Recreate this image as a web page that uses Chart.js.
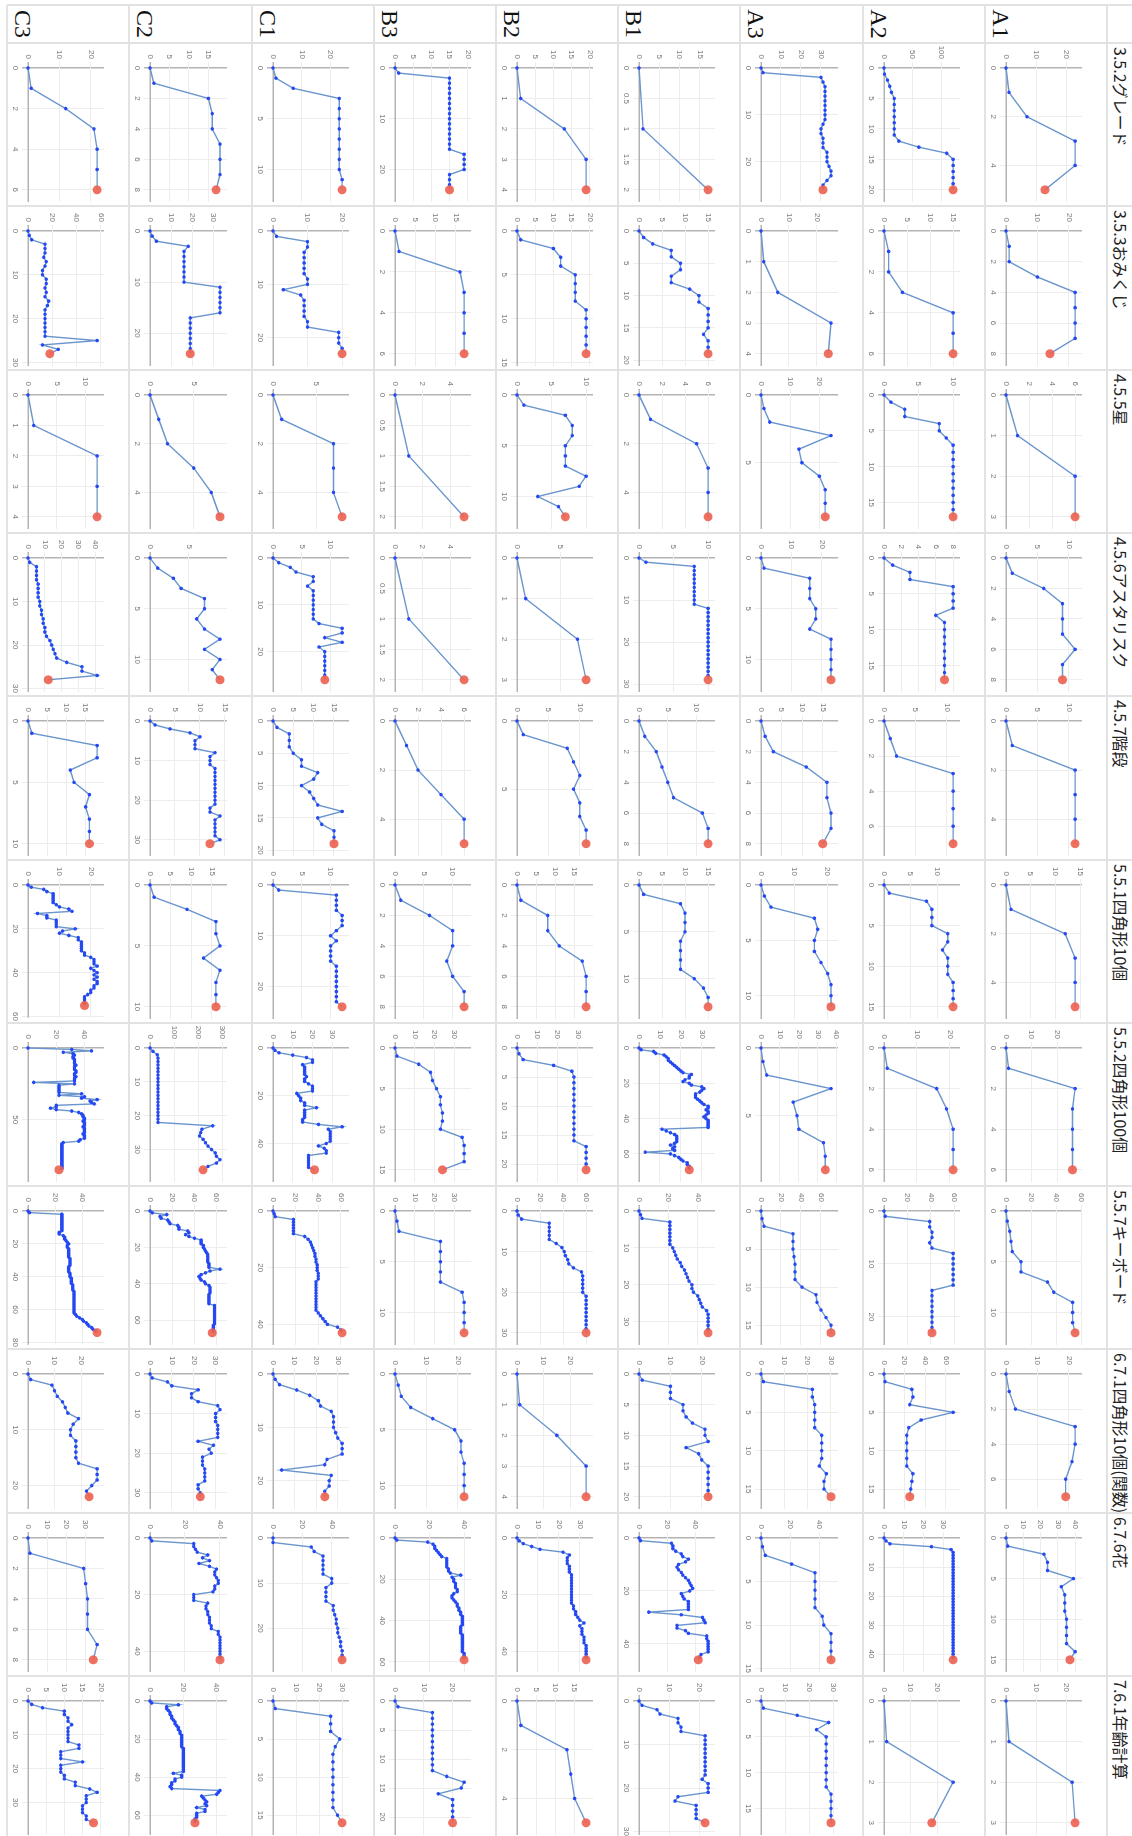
<!DOCTYPE html>
<html lang="ja">
<head>
<meta charset="utf-8">
<title>課題ごとの進捗</title>
<script src="https://cdn.jsdelivr.net/npm/chart.js@4.4.1/dist/chart.umd.min.js"></script>
<style>
  html, body { margin: 0; padding: 0; background: #fff; }
  body { width: 1132px; height: 1836px; overflow: hidden; position: relative; }
  /* the table is laid out normally, then turned a quarter clockwise */
  #sheet { position: absolute; left: 0; top: 0; width: 1840px; height: 1132px;
           transform-origin: 0 0; transform: translateX(1132px) rotate(90deg); }
  .rule { position: absolute; background: #e2e2e2; }
  .task { position: absolute; font: 16px/16px "Noto Sans CJK JP", sans-serif; color: #222; white-space: nowrap; }
  .who  { position: absolute; font: 24px/24px "Liberation Serif", serif; color: #111; text-align: center;
          display: flex; align-items: flex-end; justify-content: center; box-sizing: border-box; padding-bottom: 4px; }
  canvas { position: absolute; }
</style>
</head>
<body>
<div id="sheet"></div>
<script>
'use strict';

const TASKS = ['3.5.2グレード', '3.5.3おみくじ', '4.5.5星', '4.5.6アスタリスク', '4.5.7階段',
  '5.5.1四角形10個', '5.5.2四角形100個', '5.5.7キーボード', '6.7.1四角形10個(関数)', '6.7.6花', '7.6.1年齢計算'];
const WHO = ['A1', 'A2', 'A3', 'B1', 'B2', 'B3', 'C1', 'C2', 'C3'];

// one list per task, in TASKS order
const A1 = [
  [0,1,7,23,23,13],
  [0,1,1,10,22,22,22,22,14],
  [0,1,6,6],
  [0,1,6,9,9,9,11,9,9],
  [0,1,11,11,11,11],
  [0,1,12,14,14,14],
  [0,1,27,26,26,26,26],
  [0,1,3,4,5,12,12,33,38,53,53,53,55],
  [0,1,3,22,22,21,19,19],
  [0,1,22,24,24,39,32,34,34,34,35,35,35,35,40,37],
  [0,1,22,23]
];
const A2 = [
  [0,1,6,10,13,18,18,18,18,18,18,18,26,61,110,121,121,121,121,121,121],
  [0,1,1,4,15,15,15],
  [0,1,3,3,8,8,9,10,10,10,10,10,10,10,10,10,10,10],
  [0,1,3,3,8,8,8,8,6,7,7,7,7,7,7,7,7,7],
  [0,1,2,11,11,11,11,11],
  [0,1,8,9,9,9,12,12,11,12,12,12,13,13,13,13],
  [0,1,16,19,21,21,21],
  [0,1,39,39,41,41,39,41,59,59,59,59,59,59,59,41,41,41,41,41,41,41,41,41],
  [0,1,27,28,25,67,36,24,22,22,22,22,22,28,27,26,25],
  [0,1,3,24,34,35,35,35,35,35,35,35,35,35,35,35,35,35,35,35,35,35,35,35,35,35,35,35,35,35,35,35,35,35,35,35,35,35,35,35,35,35,35],
  [0,1,26,18]
];
const A3 = [
  [0,1,30,31,32,32,32,32,32,32,32,32,31,30,30,31,31,31,33,33,33,34,35,35,33,31,31],
  [0,1,6,25,24],
  [0,1,3,24,13,14,20,22,22,22],
  [0,1,16,16,16,18,18,16,23,23,23,23,23],
  [0,1,3,11,16,16,17,17,15],
  [0,1,3,16,17,16,16,18,20,21,21,21],
  [0,1,3,37,17,19,20,33,34,34],
  [0,1,3,32,32,32,33,34,34,34,41,55,56,60,65,70,70],
  [0,1,22,22,23,23,23,23,26,26,26,26,25,28,27,27,30],
  [0,1,3,21,37,37,37,37,37,42,43,48,48,48,48],
  [0,1,15,28,23,27,27,27,27,27,27,27,27,29,29,29,29,29]
];
const B1 = [
  [0,1,17],
  [0,1,3,7,7,9,9,7,7,11,13,13,15,15,15,15,14,15,15,15],
  [0,1,5,6,6,6],
  [0,1,8,8,8,8,8,8,8,8,8,8,10,10,10,10,10,10,10,10,10,10,10,10,10,10,10,10,10,10],
  [0,1,3,4,5,6,11,12,12],
  [0,1,9,10,10,10,9,9,9,9,12,14,15,15],
  [0,1,7,8,12,13,14,14,15,16,17,18,19,20,21,25,24,24,22,21,24,25,30,31,30,29,27,27,27,28,
   29,30,31,33,33,32,33,33,32,31,32,33,33,33,33,33,11,13,15,17,18,18,18,18,17,15,17,16,17,3,
   15,17,19,20,21,23,23,24,24,24],
  [0,1,2,21,21,21,21,21,21,21,23,24,25,26,28,29,31,32,33,34,36,36,37,40,41,42,43,46,47,47,47,47,47,47],
  [0,1,10,10,10,14,14,15,17,21,21,22,15,19,20,22,22,22,22,22,22],
  [0,1,23,24,24,26,30,31,35,33,28,27,28,30,31,33,35,36,37,38,36,30,31,32,35,35,35,35,7,30,
   45,46,47,27,27,33,35,48,48,49,49,49,49,49,44,43,42],
  [0,1,6,7,13,13,14,14,22,22,22,22,22,22,22,22,22,22,21,23,23,23,13,12,19,19,19,19,22]
];
const B2 = [
  [0,1,13,19,19],
  [0,1,10,12,12,16,16,16,16,19,19,19,19,19,19],
  [0,1,7,8,8,7,7,7,10,9,3,6,7],
  [0,1,7,8],
  [0,1,8,9,10,9,10,10,11,11],
  [0,1,8,8,11,17,18,18,18],
  [0,1,3,18,27,28,28,28,28,28,28,28,28,28,28,28,28,34,34,34,34,34],
  [0,1,4,28,28,28,28,28,34,39,41,42,44,45,49,56,57,57,57,57,57,60,60,60,60,60,60,60,60,60,60],
  [0,1,15,26,26],
  [0,1,3,7,11,22,25,24,24,24,25,25,25,26,26,26,26,26,26,26,26,26,26,26,27,27,28,28,29,30,
   32,30,31,31,31,32,32,32,33,33,33,33,33,33],
  [0,1,13,14,15,18]
];
const B3 = [
  [0,1,15,15,15,15,15,15,15,15,15,15,15,15,15,15,15,19,19,19,19,15,15,15,15],
  [0,1,16,17,17,17,17],
  [0,1,5],
  [0,1,5],
  [0,1,2,4,6,6],
  [0,1,6,10,10,9,10,12,12],
  [0,1,12,18,19,21,23,23,24,24,23,34,35,35,35,24],
  [0,1,2,23,23,23,23,23,34,35,35,35,35],
  [0,1,2,5,12,19,21,21,22,22,22,22],
  [0,1,19,22,23,23,24,25,26,27,30,30,30,30,30,31,31,32,38,33,34,34,35,35,35,36,36,34,33,33,
   34,35,36,36,37,37,38,38,39,39,39,39,39,38,38,38,38,39,39,39,39,39,39,39,39,39,40,40,40,40],
  [0,1,13,13,13,13,13,13,13,13,13,13,13,18,24,23,15,20,20,20,20,20]
];
const C1 = [
  [0,1,7,23,23,23,23,23,23,23,23,24,24],
  [0,1,10,10,9,9,9,9,9,10,10,3,8,9,9,9,9,10,10,19,19,19,20,20],
  [0,1,7,7,7,8],
  [0,1,3,4,7,7,6,7,7,7,7,7,7,7,8,12,12,9,12,8,9,9,9,9,9,9,9],
  [0,1,4,4,4,5,7,7,11,10,7,9,10,11,17,11,12,15,15,15],
  [0,1,11,11,11,11,12,12,12,11,10,11,10,10,10,10,11,11,11,11,11,11,11,11,12],
  [0,1,3,10,17,20,20,15,16,16,16,16,17,16,16,18,20,20,20,12,13,14,14,16,16,22,16,16,16,16,
   15,15,23,35,28,29,29,29,29,29,27,23,26,27,27,18,18,18,18,18,18,21],
  [0,1,2,18,18,18,18,18,18,28,31,33,34,35,36,37,37,38,38,39,39,39,40,40,40,38,38,38,38,38,
   38,38,38,38,38,38,40,42,44,46,48,57,60,61],
  [0,1,3,11,17,21,22,27,28,28,28,29,30,32,32,32,25,24,4,27,26,26,24,24],
  [0,0,26,28,34,34,34,34,34,40,40,36,36,36,36,41,41,42,43,43,44,44,45,46,46,47,47,47],
  [0,1,25,25,25,29,27,26,26,26,26,26,26,26,26,28,30]
];
const C2 = [
  [0,1,15,16,16,18,18,18,17],
  [0,1,3,18,16,16,16,16,16,16,16,33,33,33,33,33,33,19,19,19,19,19,19,19,19],
  [0,1,2,5,7,8],
  [0,1,3,4,7,7,6,7,9,7,9,8,9],
  [0,1,4,8,10,9,9,9,13,12,12,12,13,13,13,13,13,13,13,13,13,13,12,12,14,13,13,13,13,13,14,12],
  [0,1,9,16,16,17,13,17,16,16,16],
  [0,12,30,33,33,33,33,33,33,33,33,33,33,33,33,33,33,33,33,33,33,33,33,
   260,215,210,205,220,230,240,255,270,275,290,275,240,220],
  [0,2,15,9,10,16,17,18,25,26,26,34,35,32,35,40,46,46,46,48,48,49,50,51,52,52,52,52,52,53,
   53,53,63,54,50,46,44,45,46,49,50,53,54,54,54,54,53,53,53,53,53,53,58,58,58,58,58,58,58,58,
   58,58,58,57,57,57,57,56],
  [0,1,8,10,22,19,19,22,31,32,30,30,30,31,31,31,31,22,29,27,28,24,24,24,25,25,25,25,22,22,23,23],
  [0,1,25,25,26,27,33,30,34,28,34,38,37,37,38,39,39,37,37,36,25,25,25,33,32,32,33,33,34,34,
   34,35,35,39,39,40,40,40,40,40,40,40,40,40],
  [0,1,17,10,10,11,12,12,13,13,14,15,15,16,17,17,18,18,19,19,19,19,19,19,19,20,20,20,20,20,
   20,20,20,20,20,20,20,20,14,19,19,15,15,13,13,12,13,42,41,40,31,32,33,34,33,34,28,33,33,28,
   28,28,27,27,27]
];
const C3 = [
  [0,1,12,21,22,22,22],
  [0,1,3,14,14,14,13,15,14,12,12,15,15,14,15,14,17,16,14,14,14,14,14,14,14,57,12,25,18],
  [0,1,12,12,12],
  [0,1,5,5,5,5,6,6,6,6,7,7,8,8,9,9,10,10,11,13,14,15,16,17,23,32,32,41,12],
  [0,1,18,18,11,12,16,15,16,16,16],
  [0,1,5,6,8,8,8,8,8,9,10,13,14,3,6,6,9,9,9,9,15,11,10,13,16,16,17,17,17,17,
   17,18,18,20,21,21,21,22,20,21,22,21,22,21,22,22,21,21,20,20,19,18,18,18,18,18],
  [0,31,45,25,32,33,32,32,33,33,33,33,34,33,33,33,34,34,33,33,34,33,33,33,4,33,22,22,22,22,
   22,22,38,22,40,38,49,44,45,47,20,20,16,20,31,36,38,39,39,40,40,39,40,40,40,39,40,40,40,40,
   39,40,40,40,37,36,25,24,24,24,24,24,24,24,24,24,24,24,24,24,24,24,24,24,24,22],
  [0,1,25,25,25,25,25,25,25,25,25,25,25,23,23,26,27,27,28,29,30,29,29,30,30,30,30,30,30,31,
   31,31,31,31,30,30,30,30,31,31,31,32,32,32,32,33,33,33,33,34,34,34,34,34,34,34,34,34,34,34,
   34,34,34,35,36,38,40,41,43,44,45,47,48,50,51],
  [0,1,9,10,11,13,14,15,19,17,16,16,18,18,18,18,19,26,26,26,24,22,23],
  [0,1,29,30,31,31,31,36,34],
  [0,1,4,10,10,11,11,12,11,11,11,11,11,14,14,9,9,9,15,9,9,9,10,10,13,13,17,19,16,16,
   16,15,15,15,16,16,18]
];

// tick steps per task: [x step, y step]
const stepsA1 = [[2,10],[2,10],[1,2],[2,5],[2,5],[2,5],[2,10],[5,20],[2,10],[5,10],[1,10]];
const stepsA2 = [[5,50],[2,5],[5,5],[5,2],[2,5],[5,5],[2,10],[10,20],[5,20],[10,10],[1,10]];
const stepsA3 = [[10,10],[1,10],[5,10],[5,10],[2,5],[5,10],[5,10],[5,20],[5,10],[5,20],[5,10]];
const stepsB1 = [[0.5,5],[5,5],[2,2],[10,5],[2,5],[5,5],[20,10],[10,20],[5,10],[20,20],[10,10]];
const stepsB2 = [[1,5],[5,5],[5,5],[1,5],[5,5],[2,5],[5,10],[10,20],[1,10],[20,10],[2,5]];
const stepsB3 = [[10,5],[2,5],[0.5,2],[0.5,2],[2,2],[2,5],[5,10],[5,10],[5,10],[20,20],[5,10]];
const stepsC1 = [[5,10],[10,10],[2,5],[10,5],[5,5],[10,5],[20,10],[20,20],[10,10],[10,20],[5,10]];
const stepsC2 = [[2,5],[10,10],[2,5],[5,5],[10,5],[5,5],[10,100],[20,20],[10,10],[20,20],[20,20]];
const stepsC3 = [[2,10],[10,20],[1,5],[10,10],[5,5],[20,10],[50,20],[20,20],[10,10],[2,10],[10,5]];

const ROWS = [A1, A2, A3, B1, B2, B3, C1, C2, C3];
const STEPS = [stepsA1, stepsA2, stepsA3, stepsB1, stepsB2, stepsB3, stepsC1, stepsC2, stepsC3];

// sheet geometry (unrotated frame)
const LABEL_X = 5, COL_X = 43, COL_W = 163.3, ROW_Y = 25, ROW_H = 122.2;

const sheet = document.getElementById('sheet');

function box(cls, x, y, w, h) {
  const d = document.createElement('div');
  d.className = cls;
  d.style.left = x + 'px';
  d.style.top = y + 'px';
  if (w != null) d.style.width = w + 'px';
  if (h != null) d.style.height = h + 'px';
  sheet.appendChild(d);
  return d;
}

const zero = c => c.tick && c.tick.value === 0;
const fmt = v => String(Math.round(v * 100) / 100);

function makeChart(canvas, vals, steps) {
  const last = vals.length - 1;
  const top = Math.max(...vals);
  const tickFont = { size: 8, family: '"Liberation Sans", sans-serif' };
  const grid = {
    color: c => zero(c) ? '#b3b3b3' : '#ededed',
    lineWidth: c => zero(c) ? 1.5 : 1,
    tickLength: 6
  };
  return new Chart(canvas, {
    type: 'line',
    data: {
      datasets: [{
        data: vals.map((v, i) => ({ x: i, y: v })),
        borderColor: '#6a95cd',
        borderWidth: 1.4,
        tension: 0,
        clip: false,
        pointRadius: c => c.dataIndex === last ? 4.5 : 1.8,
        pointBackgroundColor: c => c.dataIndex === last ? 'rgba(236,96,80,0.9)' : '#2448f2',
        pointBorderWidth: 0
      }]
    },
    options: {
      responsive: false,
      animation: false,
      events: [],
      layout: { autoPadding: false, padding: { top: 24, right: 4, left: 0, bottom: 0 } },
      plugins: { legend: { display: false }, tooltip: { enabled: false } },
      scales: {
        x: {
          type: 'linear', min: 0, max: last * 1.1,
          afterFit: s => { s.height = 21; },
          border: { display: false }, grid,
          ticks: { stepSize: steps[0], includeBounds: false, autoSkip: false, maxRotation: 0,
                   padding: 2, color: '#777', font: tickFont, callback: fmt }
        },
        y: {
          type: 'linear', min: 0, max: top * 1.1,
          afterFit: s => { s.width = 24; },
          border: { display: false }, grid,
          ticks: { stepSize: steps[1], includeBounds: false, autoSkip: false,
                   padding: 3, color: '#777', font: tickFont, callback: fmt }
        }
      }
    }
  });
}

// column and row edges
const colEdge = k => Math.round(COL_X + COL_W * k);
const rowEdge = j => Math.round(ROW_Y + ROW_H * j);

// rules
for (let j = 0; j <= WHO.length; j++) box('rule', LABEL_X, rowEdge(j) - 1, 1840, 2);
box('rule', LABEL_X - 1, 0, 2, rowEdge(WHO.length));
for (let k = 0; k <= TASKS.length; k++) box('rule', colEdge(k) - 1, 0, 2, rowEdge(WHO.length));

// header row
TASKS.forEach((t, k) => {
  const d = box('task', colEdge(k) + 4, 3);
  d.textContent = t;
});

// participant rows
WHO.forEach((w, j) => {
  const y0 = rowEdge(j), y1 = rowEdge(j + 1);
  const lab = box('who', LABEL_X, y0, COL_X - LABEL_X, y1 - y0);
  lab.textContent = w;

  TASKS.forEach((t, k) => {
    const x0 = colEdge(k), x1 = colEdge(k + 1);
    const cv = document.createElement('canvas');
    cv.width = x1 - x0 - 1;
    cv.height = y1 - y0 - 1;
    cv.style.left = (x0 + 1) + 'px';
    cv.style.top = (y0 + 1) + 'px';
    sheet.appendChild(cv);
    makeChart(cv, ROWS[j][k], STEPS[j][k]);
  });
});
</script>
</body>
</html>
